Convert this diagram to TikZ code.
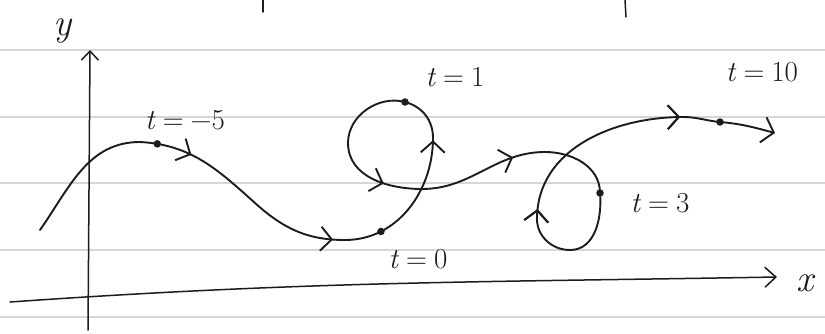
\documentclass[tikz,border=0pt]{standalone}
\usepackage{fontspec}
\usetikzlibrary{arrows.meta,decorations.markings}
\definecolor{inkc}{RGB}{28,28,28}
\definecolor{paperc}{RGB}{210,214,224}
\newcommand{\tl}[1]{\textit{t}\hspace{7pt}=\hspace{7pt}#1}
\begin{document}
\begin{tikzpicture}[x=1pt,y=1pt,
  ink/.style={line width=1.9pt, draw=inkc, line cap=round, line join=round},
  axis/.style={line width=1.5pt, draw=inkc, line cap=round},
  paper/.style={line width=2pt, draw=paperc},
  barb/.style={decoration={markings, mark=at position #1 with {\arrow{Straight Barb[length=11pt,width=24pt]}}}, postaction={decorate}},
  dot/.style={circle, fill=inkc, inner sep=0pt, minimum size=7.5pt},
  lbl/.style={font=\fontsize{29}{32}\selectfont, text=inkc},
  axlbl/.style={font=\fontsize{38}{42}\selectfont\itshape, text=inkc}
]
\useasboundingbox (0,0) rectangle (825,333);
\fill[white] (0,0) rectangle (825,333);
% ruled paper lines
\foreach \yy in {283,216,150,83,16} \draw[paper] (0,\yy) -- (825,\yy);
% stray marks at the top
\draw[axis] (263,333) -- (263,321);
\draw[axis] (625,333) -- (626,316);

% axes
\coordinate (yb) at (88,3);
\coordinate (yt) at (90,283);
\draw[axis, -{Straight Barb[length=9pt,width=17pt]}] (yb) -- (yt);
\node[axlbl] (ylab) at (63,302) {y};
\coordinate (xl) at (10,31);
\coordinate (xr) at (777,56);
\draw[axis, -{Straight Barb[length=11pt,width=20pt]}] (xl) to[out=4,in=181] (xr);
\node[axlbl] (xlab) at (805,50) {x};

% key points of the curve
\coordinate (s) at (40,103);
\coordinate (pk) at (140,191);
\coordinate (inf) at (255,130);
\coordinate (mn) at (345,93);
\coordinate (up) at (433,195);
\coordinate (C) at (405,231);
\coordinate (lf) at (348,190);
\coordinate (bt) at (422,144);
\coordinate (pk2) at (545,181);
\coordinate (D) at (600,140);
\coordinate (bt2) at (570,83);
\coordinate (lf2) at (537,114);
\coordinate (a7) at (683,216);
\coordinate (E) at (720,211);
\coordinate (en) at (775,200);

% the curve
\draw[ink] (s) to[out=55,in=180] (pk);
\draw[ink, barb=0.4] (pk) to[out=-3,in=138] coordinate[pos=0.12] (A) (inf);
\draw[ink, barb=0.88] (inf) to[out=-42,in=180] (mn);
\draw[ink, barb=0.985] (mn) to[out=0,in=-90] coordinate[pos=0.25] (B) (up);
\draw[ink] (up) to[out=90,in=-15] (C);
\draw[ink] (C) to[out=165,in=90] (lf);
\draw[ink, barb=0.6] (lf) to[out=-90,in=180] (bt);
\draw[ink, barb=0.75] (bt) to[out=0,in=180] (pk2);
\draw[ink] (pk2) to[out=0,in=90] (D);
\draw[ink] (D) to[out=-85,in=0] (bt2);
\draw[ink] (bt2) to[out=180,in=-90] (lf2);
\draw[ink, barb=0.05, barb=0.985] (lf2) to[out=90,in=180] (a7);
\draw[ink] (a7) to[out=0,in=175] (E);
\draw[ink, -{Straight Barb[length=11pt,width=26pt]}] (E) to[out=-5,in=165] (en);

% marked points
\node[dot] (dA) at (A) {};
\node[dot] (dB) at (B) {};
\node[dot] (dC) at (C) {};
\node[dot] (dD) at (D) {};
\node[dot] (dE) at (E) {};

% labels
\node[lbl] (tA) at (185,213) {\tl{−5}};
\node[lbl] (tC) at (455,256) {\tl{1}};
\node[lbl] (tB) at (418,74) {\tl{0}};
\node[lbl] (tD) at (660,130) {\tl{3}};
\node[lbl] (tE) at (762,261) {\tl{10}};
\end{tikzpicture}
\end{document}
